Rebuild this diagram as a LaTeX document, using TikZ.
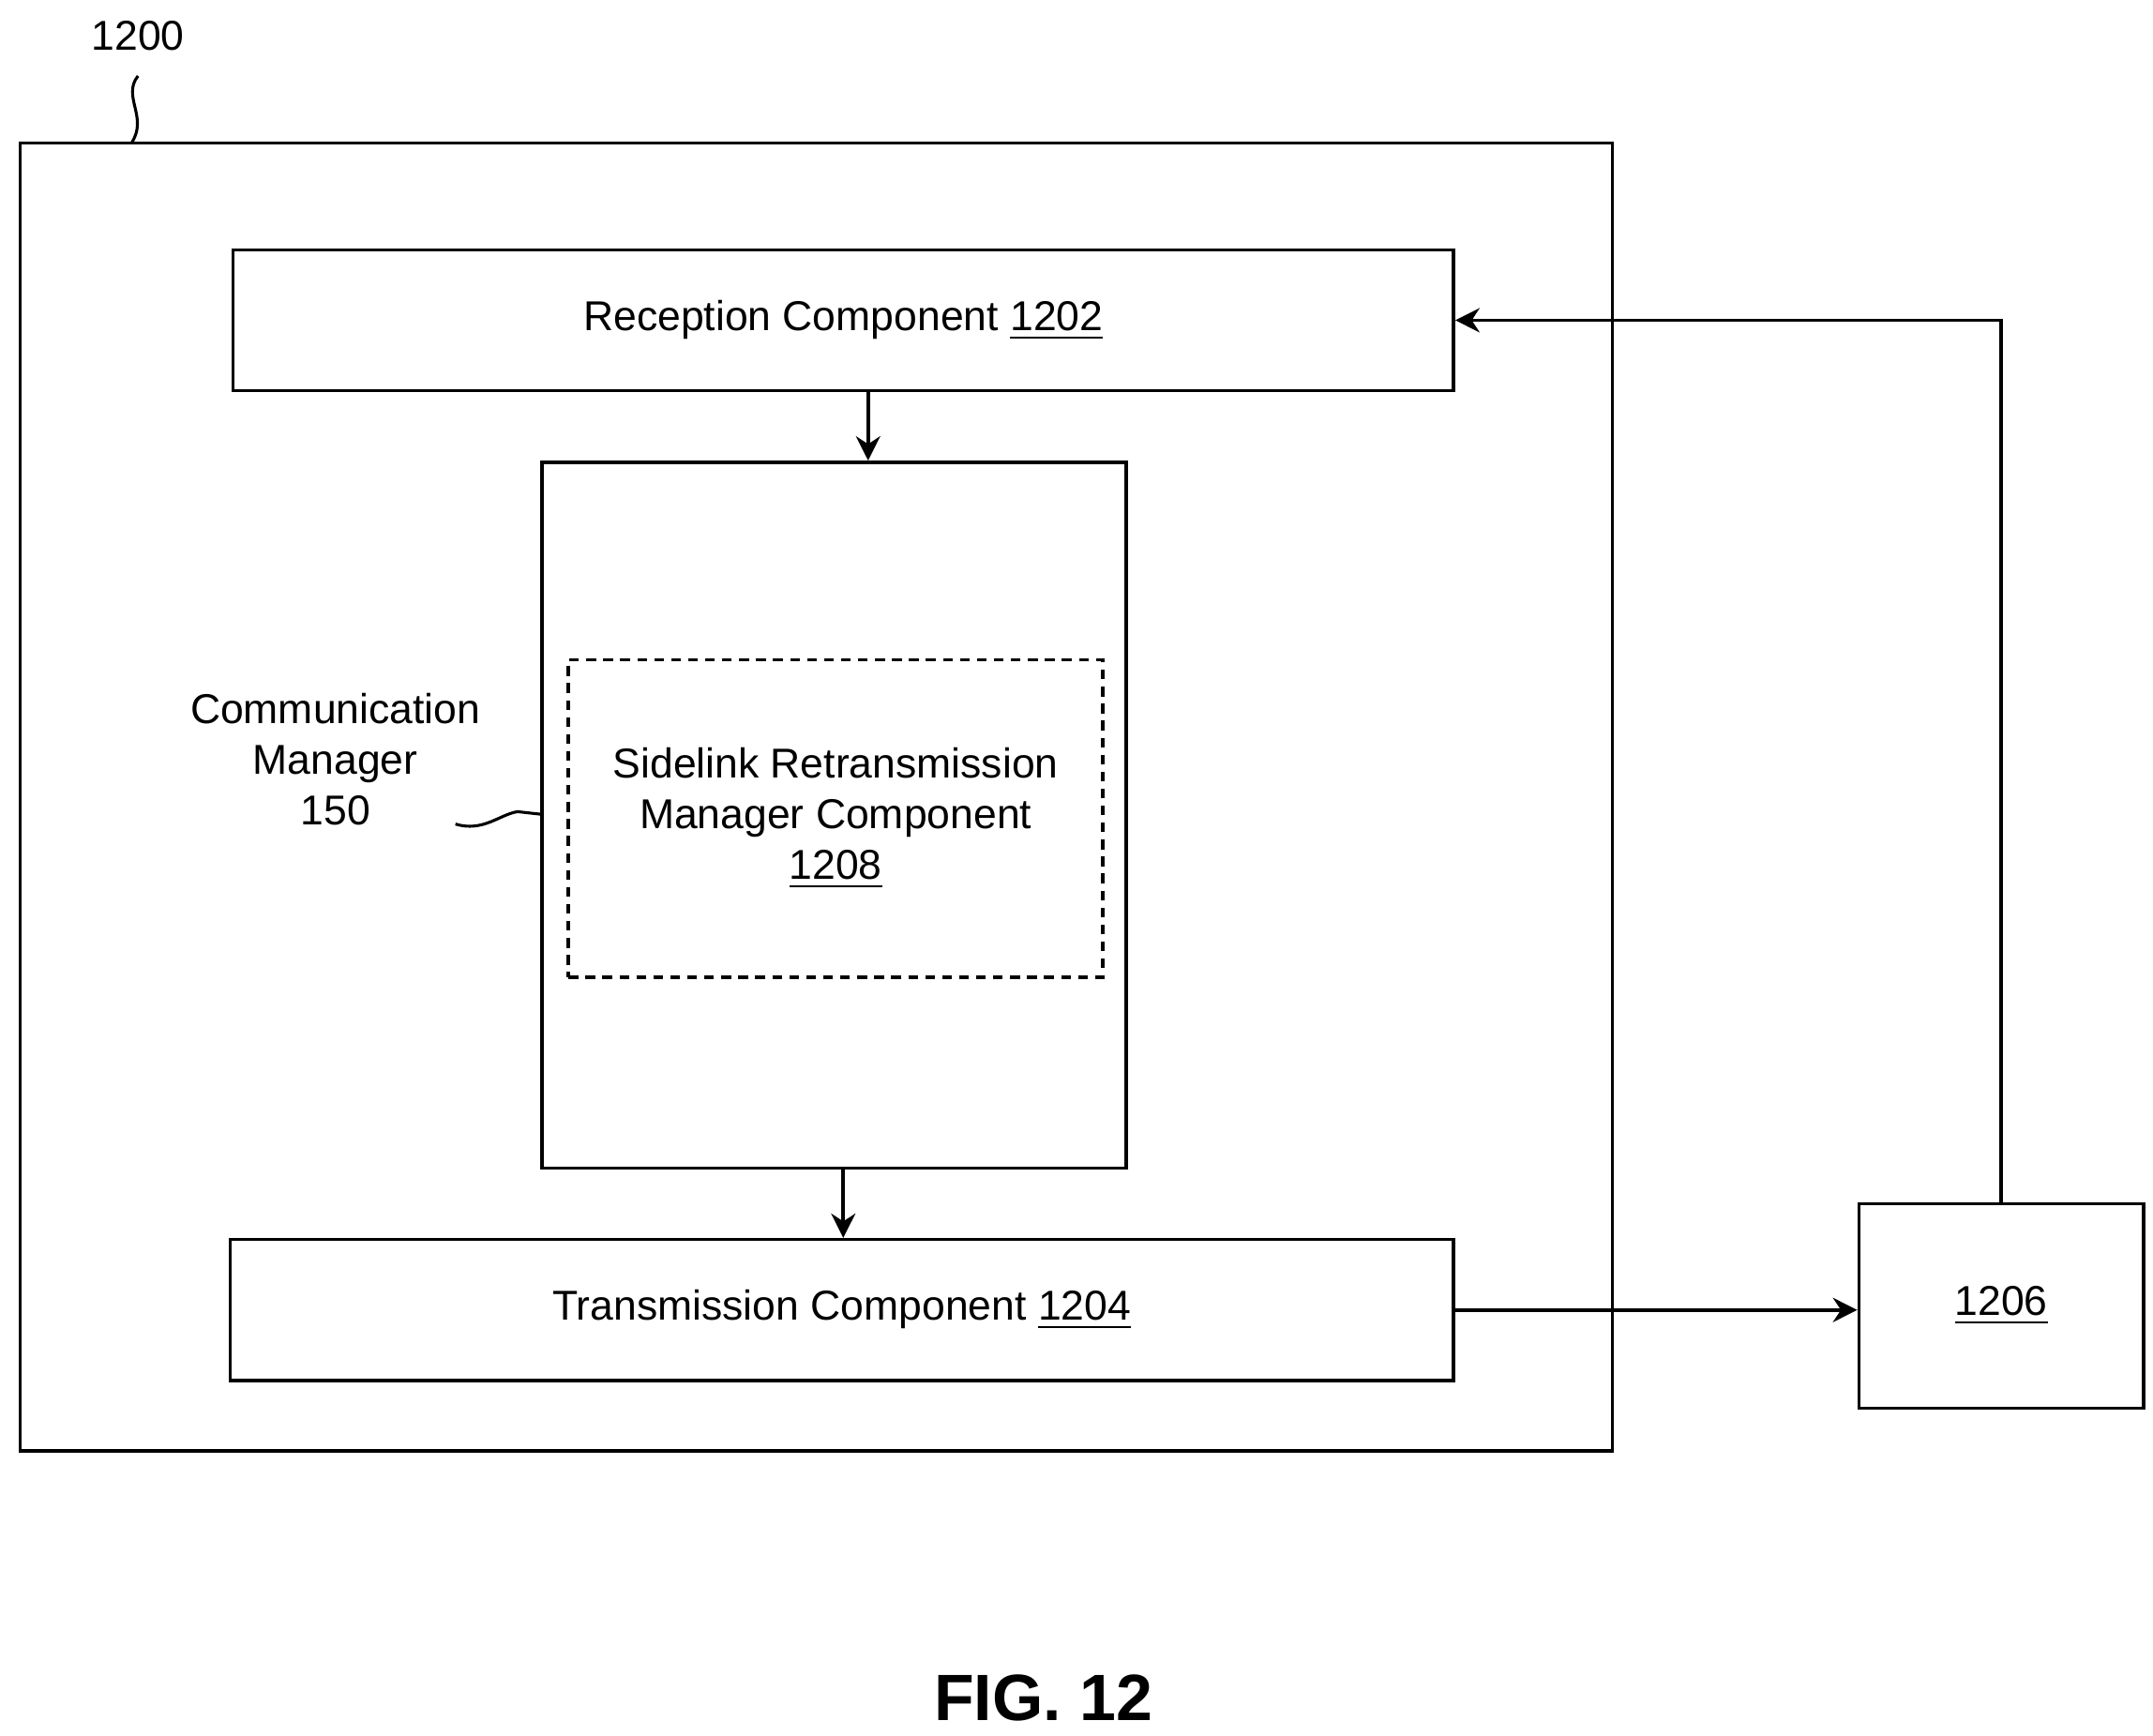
\documentclass[tikz,border=0pt]{standalone}
\usepackage{fontspec}
\setmainfont{Liberation Sans}
\usetikzlibrary{positioning,arrows.meta}

\begin{document}
\begin{tikzpicture}[x=0.01cm, y=-0.01cm, font=\fontsize{8.6}{10.4}\selectfont]
        \tikzstyle{box}=[draw=black, line width=0.7pt, inner sep=0pt]
        \tikzstyle{link}=[line width=0.7pt, -{Stealth[length=5pt,width=5pt]}]
        \useasboundingbox (0,0) rectangle (1560,1257);

        % outer device box
        \node[box, minimum width=11.53cm, minimum height=9.47cm] (dev) at (591.5,577.5) {};
        \node (lbl1200) at (100,26) {1200};
        \draw[line width=0.6pt] (100,55) .. controls (88,70) and (108,85) .. (95,104);

        % components
        \node[box, minimum width=8.84cm, minimum height=1.02cm] (rx) at (611,232) {Reception Component \underline{1202}};
        \node[box, minimum width=4.23cm, minimum height=5.11cm] (cm) at (604.5,590.5) {};
        \node[box, dashed, dash pattern=on 2pt off 1.5pt, minimum width=3.87cm, minimum height=2.30cm, align=center] (slr) at (605.5,593)
            {Sidelink Retransmission\\Manager Component\\\underline{1208}};
        \node[box, minimum width=8.86cm, minimum height=1.02cm] (tx) at (610,949) {Transmission Component \underline{1204}};
        \node[box, minimum width=2.06cm, minimum height=1.48cm] (ext) at (1450,946) {\underline{1206}};

        % communication manager label
        \node[align=center] (cmlbl) at (243,550) {Communication\\Manager\\150};
        \draw[line width=0.6pt] (330,597) .. controls (350,603) and (362,590) .. (375,588) -- (393,590);

        % arrows
        \draw[link] (ext.north) |- (rx.east);
        \draw[link] (rx.south -| 629,0) -- (cm.north -| 629,0);
        \draw[link] (cm.south -| 611,0) -- (tx.north -| 611,0);
        \draw[link] (tx.east) -- (tx.east -| ext.west);

        \node[font=\fontsize{13.5}{16}\selectfont\bfseries] (fig) at (756,1230) {FIG. 12};
\end{tikzpicture}
\end{document}
